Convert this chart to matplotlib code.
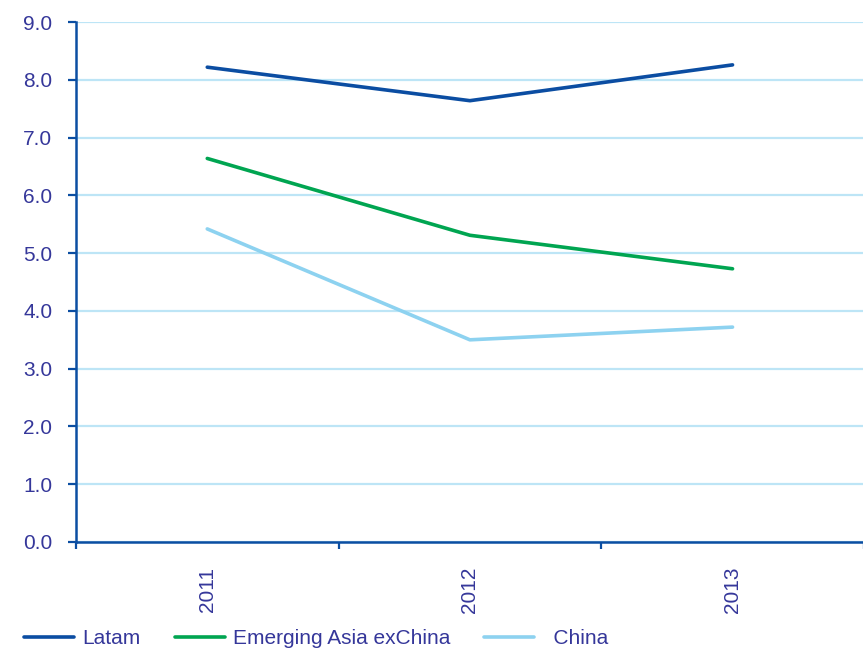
import matplotlib
matplotlib.use("Agg")
import matplotlib.pyplot as plt
import numpy as np

years = ["2011", "2012", "2013"]
latam = [8.22, 7.64, 8.26]
asia_ex_china = [6.64, 5.31, 4.73]
china = [5.42, 3.50, 3.72]

axis_blue = "#0B4EA2"
text_blue = "#35379A"
grid_blue = "#BDE5F6"

plt.rcParams['font.family'] = ['Liberation Sans', 'DejaVu Sans']

fig = plt.figure(figsize=(8.63, 6.49), dpi=100)
ax = fig.add_axes([0.088, 0.1649, 0.913, 0.801])

x = np.arange(len(years))
ax.plot(x, latam, color="#0B4DA2", lw=2.6, label="Latam", solid_capstyle="round")
ax.plot(x, asia_ex_china, color="#00A551", lw=2.6, label="Emerging Asia exChina", solid_capstyle="round")
ax.plot(x, china, color="#8DD2F0", lw=2.6, label="  China", solid_capstyle="round")

ax.set_xlim(-0.5, len(years) - 0.5)
ax.set_ylim(0, 9)
ax.set_yticks(np.arange(0, 9.1, 1.0))
ax.set_yticklabels([f"{v:.1f}" for v in np.arange(0, 9.1, 1.0)])
ax.yaxis.grid(True, color=grid_blue, lw=1.6)
ax.set_axisbelow(True)

ax.set_xticks(x)
ax.set_xticklabels(years, rotation=90)
ax.set_xticks(np.arange(-0.5, len(years), 1.0), minor=True)
ax.tick_params(axis="x", which="major", length=0, pad=18, labelsize=15, labelcolor=text_blue)
ax.tick_params(axis="x", which="minor", length=5, width=1.6, color=axis_blue, direction="out")
ax.tick_params(axis="y", length=6, width=1.6, color=axis_blue, pad=11, labelsize=15, labelcolor=text_blue)

for side in ["top", "right"]:
    ax.spines[side].set_visible(False)
for side in ["left", "bottom"]:
    ax.spines[side].set_color(axis_blue)
    ax.spines[side].set_linewidth(1.8)

leg = fig.legend(loc="center left", bbox_to_anchor=(0.028, 0.016), ncol=3, frameon=False,
                 fontsize=15, handlelength=2.4, handletextpad=0.38, columnspacing=1.65,
                 borderaxespad=0, borderpad=0)
for t in leg.get_texts():
    t.set_color(text_blue)

fig.savefig("out.png", dpi=100)
